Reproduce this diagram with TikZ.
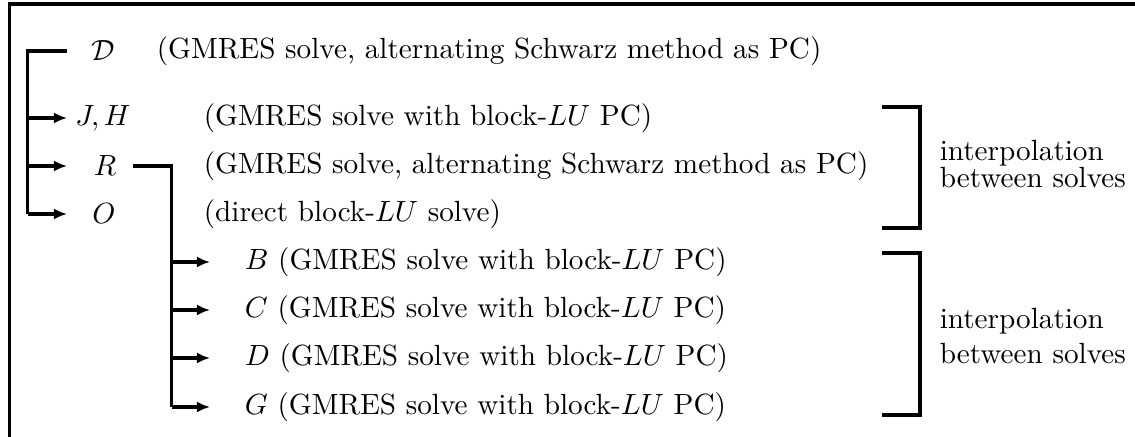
\documentclass[tikz,border=0pt]{standalone}
\usetikzlibrary{arrows.meta}
\begin{document}
\begin{tikzpicture}[x=0.3425pt,y=-0.3425pt,line width=1.25pt,
  arr/.style={-{Latex[length=4.5pt,width=3.8pt]}},
  lbl/.style={inner sep=0pt,anchor=center},
  txt/.style={inner sep=0pt,anchor=west},
  note/.style={inner sep=0pt,anchor=west,align=left}]
\useasboundingbox (0,0) rectangle (1135,437);
% frame (left and top edges)
\draw (9.5,437) -- (9.5,4) -- (1135,4);
% level-1 labels
\node[lbl] (Dc) at (103,51) {$\mathcal{D}$};
\node[txt] (Dt) at (155,51) {(GMRES solve, alternating Schwarz method as PC)};
\node[lbl] (JH) at (103,118) {$J,H$};
\node[txt] (JHt) at (202,118) {(GMRES solve with block-$LU$ PC)};
\node[lbl] (R) at (105,166) {$R$};
\node[txt] (Rt) at (202,166) {(GMRES solve, alternating Schwarz method as PC)};
\node[lbl] (O) at (104,214) {$O$};
\node[txt] (Ot) at (202,214) {(direct block-$LU$ solve)};
% level-2 labels
\node[txt] (B) at (243,262) {$B$ (GMRES solve with block-$LU$ PC)};
\node[txt] (C) at (243,310) {$C$ (GMRES solve with block-$LU$ PC)};
\node[txt] (Dd) at (243,358) {$D$ (GMRES solve with block-$LU$ PC)};
\node[txt] (G) at (243,407) {$G$ (GMRES solve with block-$LU$ PC)};
% tree coordinates
\coordinate (t0) at (27.5,51);
\coordinate (d0) at (67,51);
\coordinate (aJ) at (67,118);
\coordinate (aR) at (67,166);
\coordinate (aO) at (67,214);
\coordinate (r0) at (133,166);
\coordinate (r1) at (171.5,166);
\coordinate (aB) at (210,262);
\coordinate (aC) at (210,310);
\coordinate (aD) at (210,358);
\coordinate (aG) at (210,407);
% main tree
\draw (d0) -- (t0) -- (t0 |- aO);
\draw[arr] (t0 |- aO) -- (aO);
\draw[arr] (t0 |- aJ) -- (aJ);
\draw[arr] (t0 |- aR) -- (aR);
% sub tree
\draw (r0) -- (r1) -- (r1 |- aG);
\draw[arr] (r1 |- aG) -- (aG);
\draw[arr] (r1 |- aB) -- (aB);
\draw[arr] (r1 |- aC) -- (aC);
\draw[arr] (r1 |- aD) -- (aD);
% brackets
\coordinate (b1a) at (882,107);
\coordinate (b1b) at (920,228);
\draw (b1a) -- (b1a -| b1b) -- (b1b) -- (b1b -| b1a);
\node[note] (n1) at (938,164) {interpolation\\[-3pt]between solves};
\coordinate (b2a) at (882,253);
\coordinate (b2b) at (920,415);
\draw (b2a) -- (b2a -| b2b) -- (b2b) -- (b2b -| b2a);
\node[note] (n2) at (938,336) {interpolation\\between solves};
\end{tikzpicture}
\end{document}
